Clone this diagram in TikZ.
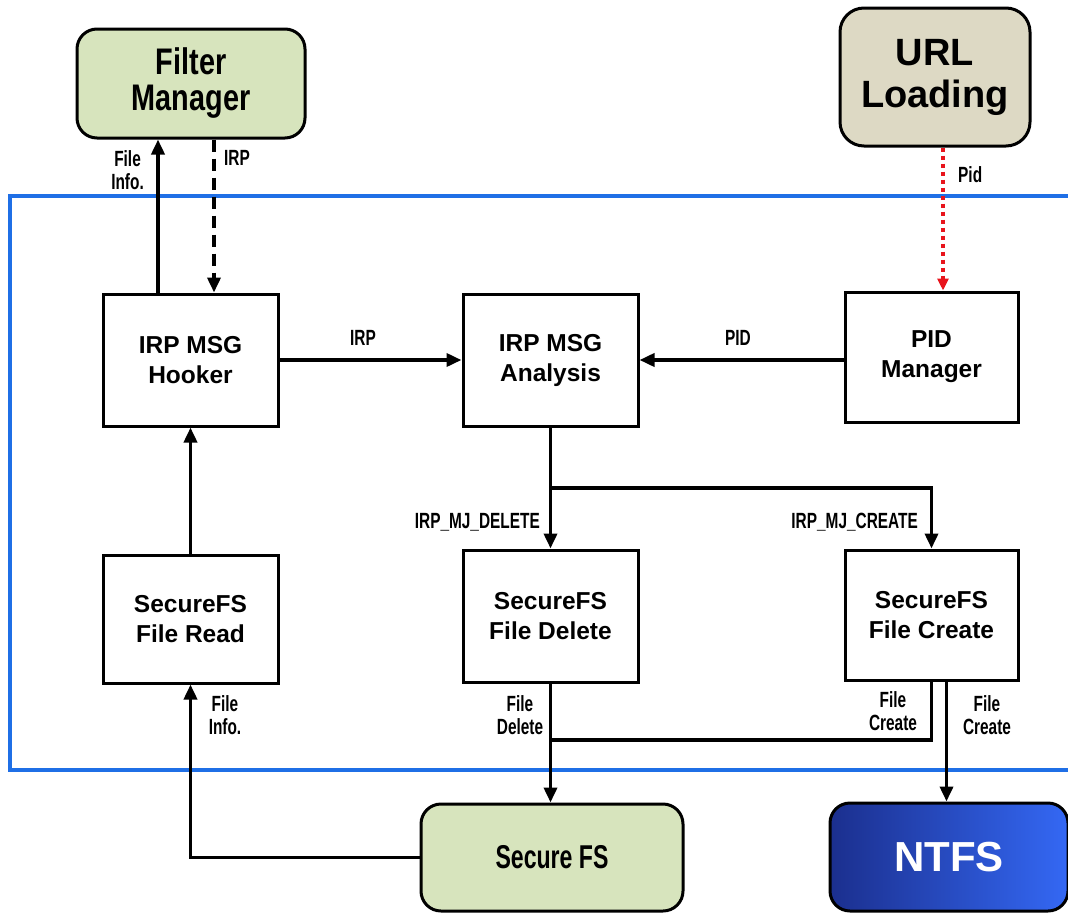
\documentclass[tikz,border=0pt]{standalone}
\usepackage{fontspec}
\setmainfont{Liberation Sans}
\newfontfamily\condfont{Liberation Sans}[FakeStretch=0.7]
\newfontfamily\fmfont{Liberation Sans}[FakeStretch=0.78]
\usetikzlibrary{arrows.meta}
\definecolor{fmgreen}{HTML}{D7E4BD}
\definecolor{urltan}{HTML}{DDD9C4}
\definecolor{frameblue}{HTML}{1F6FE6}
\definecolor{dotred}{HTML}{E8141C}
\definecolor{ntfsdark}{HTML}{1B2F8E}
\definecolor{ntfslight}{HTML}{3468F4}
\tikzset{
  procbox/.style={draw=black, line width=3pt, fill=white, align=center,
    font=\bfseries\fontsize{24.5}{30}\selectfont},
  extbox/.style={draw=black, line width=3pt, rounded corners=20pt, align=center},
  arr/.style={line width=3.6pt, -{Triangle[length=15pt,width=13pt]}},
  plainline/.style={line width=3.6pt},
  lbl/.style={font=\condfont\bfseries\fontsize{22}{23}\selectfont, align=center, inner sep=0pt},
}
\begin{document}
\begin{tikzpicture}[x=1pt,y=-1pt]
\useasboundingbox (0,0) rectangle (1068,913);
% frame
\draw[frameblue, line width=4pt] (1075,196) -- (10,196) -- (10,770) -- (1075,770);

% external boxes
\node[extbox, fill=fmgreen, minimum width=228pt, minimum height=109pt,
  font=\fmfont\bfseries\fontsize{37}{36}\selectfont] (fm) at (191,83.5) {Filter\\Manager};
\node[extbox, fill=urltan, minimum width=190pt, minimum height=138pt, rounded corners=24pt,
  font=\bfseries\fontsize{38}{42}\selectfont] (url) at (935,77) {URL\\Loading};
\node[extbox, fill=fmgreen, minimum width=262pt, minimum height=107pt,
  font=\condfont\bfseries\fontsize{33}{33}\selectfont] (sfs) at (552,857.5) {Secure FS};
\node[extbox, left color=ntfsdark, right color=ntfslight, minimum width=238pt, minimum height=108pt,
  text=white, font=\bfseries\fontsize{42}{44}\selectfont] (ntfs) at (949,857) {NTFS};

% process boxes
\node[procbox, minimum width=175pt, minimum height=132pt] (hook) at (190.5,360) {IRP MSG\\Hooker};
\node[procbox, minimum width=175pt, minimum height=132pt] (ana) at (550.5,360) {IRP MSG\\Analysis};
\node[procbox, minimum width=173pt, minimum height=130pt] (pid) at (931.5,357) {PID\\Manager};
\node[procbox, minimum width=175pt, minimum height=128pt] (read) at (190.5,619) {SecureFS\\File Read};
\node[procbox, minimum width=175pt, minimum height=132pt] (del) at (550.5,616) {SecureFS\\File Delete};
\node[procbox, minimum width=173pt, minimum height=130pt] (cre) at (931.5,615) {SecureFS\\File Create};

\coordinate (br) at (550.5,488);
\coordinate (jn) at (550.5,740);

% connectors
\draw[arr] ([xshift=-32.5pt]hook.north) -- ([xshift=-32.5pt]hook.north |- fm.south);
\draw[arr, dash pattern=on 12pt off 7pt] ([xshift=23pt]fm.south) -- ([xshift=23pt]fm.south |- hook.north);
\draw[arr] (hook.east) -- (ana.west);
\draw[arr] (pid.west |- ana.east) -- (ana.east);
\draw[dotred, line width=4pt, dash pattern=on 4pt off 4pt, -{Triangle[length=12pt,width=11pt]}]
  ([xshift=8pt]url.south) -- ([xshift=8pt]url.south |- pid.north);
\draw[arr] (read.north) -- (hook.south);
\draw[arr] (ana.south) -- (del.north);
\draw[arr] (br) -| (cre.north);
\draw[plainline] (cre.south) |- (jn);
\draw[arr] (del.south) -- (del.south |- sfs.north);
\draw[arr] ([xshift=15pt]cre.south) -- ([xshift=15pt]cre.south |- ntfs.north);
\draw[arr] (sfs.west) -| (read.south);

% labels
\node[lbl, anchor=east] (l1) at (144,170) {File\\Info.};
\node[lbl, anchor=west] (l2) at (224,158) {IRP};
\node[lbl] (l3) at (363,338) {IRP};
\node[lbl] (l4) at (738,338) {PID};
\node[lbl, anchor=west] (l5) at (958,175) {Pid};
\node[lbl, anchor=east] (l6) at (540,522) {IRP\_MJ\_DELETE};
\node[lbl, anchor=east] (l7) at (918,522) {IRP\_MJ\_CREATE};
\node[lbl] (l8) at (520,715) {File\\Delete};
\node[lbl] (l9) at (893,711) {File\\Create};
\node[lbl] (l10) at (987,715) {File\\Create};
\node[lbl] (l11) at (225,715) {File\\Info.};
\end{tikzpicture}
\end{document}
